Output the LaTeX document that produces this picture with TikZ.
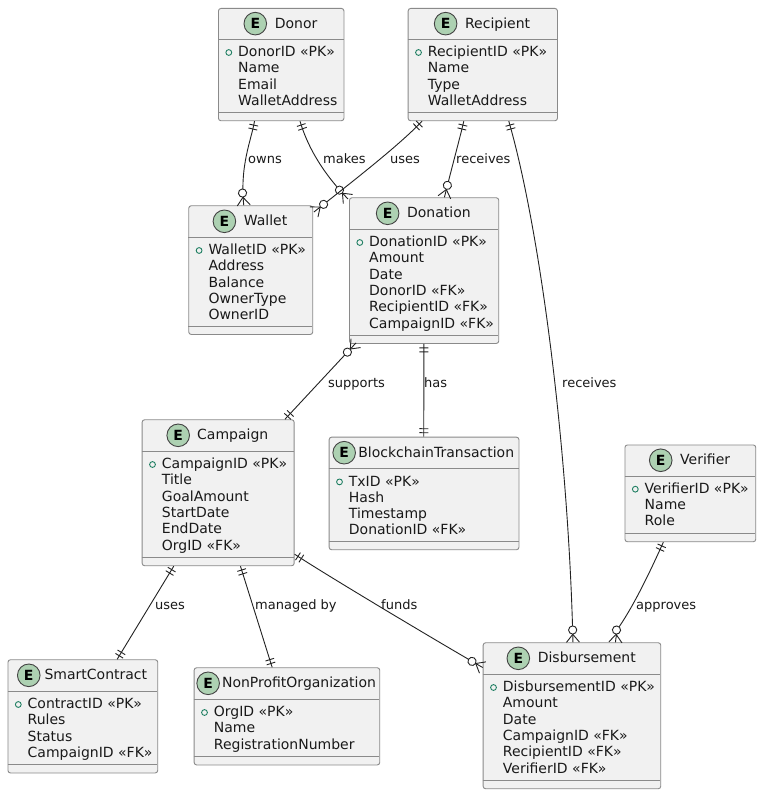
\documentclass[tikz,border=0pt]{standalone}
\usepackage{fontspec}
\setmainfont{DejaVu Sans}
\usetikzlibrary{calc,decorations.markings}
\definecolor{boxfill}{HTML}{F1F1F1}
\definecolor{boxline}{HTML}{8A8A8A}
\definecolor{inkline}{HTML}{222222}
\definecolor{badge}{HTML}{ADD1B2}
\definecolor{pubdot}{HTML}{1F7F62}
\tikzset{
  entbox/.style={draw=boxline,fill=boxfill,line width=0.9pt,rounded corners=2.5pt,inner sep=0pt,anchor=north west},
  sepline/.style={draw=boxline,line width=0.9pt},
  ebadge/.style={circle,draw=inkline!85,fill=badge,line width=0.9pt,minimum size=22.6pt,inner sep=0pt,font=\fontsize{14}{14}\selectfont\bfseries,text=black},
  ttl/.style={anchor=base,inner sep=0pt,font=\fontsize{14}{14}\selectfont,text=black!90},
  rowtxt/.style={anchor=base west,inner sep=0pt,font=\fontsize{14}{14}\selectfont,text=black!90},
  lbl/.style={anchor=base west,inner sep=0pt,font=\fontsize{13}{14}\selectfont,text=black!90},
  rel/.style={draw=inkline,line width=0.9pt},
  onestart/.style={postaction={decorate,decoration={markings,
     mark=at position 4pt with {\draw[inkline,line width=0.9pt] (0,-4.5pt)--(0,4.5pt);},
     mark=at position 8pt with {\draw[inkline,line width=0.9pt] (0,-4.5pt)--(0,4.5pt);}}}},
  oneend/.style={postaction={decorate,decoration={markings,
     mark=at position -8pt with {\draw[inkline,line width=0.9pt] (0,-4.5pt)--(0,4.5pt);},
     mark=at position -4pt with {\draw[inkline,line width=0.9pt] (0,-4.5pt)--(0,4.5pt);}}}},
  crowend/.style={postaction={decorate,decoration={markings,
     mark=at position -0.01pt with {\draw[inkline,line width=0.9pt] (0,-6.5pt)--(-8pt,0)--(0,6.5pt);
        \draw[inkline,line width=0.9pt,fill=white] (-12.3pt,0) circle (4.1pt);}}}},
}
% name, left, top, right, headsep, footsep, bottom, gap, title, rows
\newcommand{\entity}[9]{%
  \node[entbox,minimum width=#4pt-#2pt,minimum height=#7pt-#3pt] (#1) at (#2,#3) {};
  \draw[sepline] (#2,#5) -- (#4,#5);
  \draw[sepline] (#2,#6) -- (#4,#6);
  \pgfmathsetmacro{\txx}{(#2+#4)/2+(22.6+#8)/2}%
  \pgfmathsetmacro{\cyy}{(#3+#5)/2}%
  \pgfmathsetmacro{\tyy}{#3+20.3}%
  \node[ttl] (#1T) at (\txx,\tyy) {#9};
  \coordinate (#1A) at ([xshift={-(#8+11.3)*1pt}]#1T.west);
  \node[ebadge] (#1E) at (#1A |- 0,\cyy) {E};
  \entityrows{#1}{#2}{#5}%
}
\newcommand{\entityrows}[3]{\def\rowname{#1}\def\rowleft{#2}\def\rowtop{#3}\rowsgo}
\newcommand{\rowsgo}[1]{%
  \pgfmathsetmacro{\dotx}{\rowleft+10.8}%
  \pgfmathsetmacro{\rowx}{\rowleft+20}%
  \draw[pubdot,line width=0.9pt] (\dotx,\rowtop+13.2) circle (2.9pt);
  \foreach \rr [count=\ii from 0] in {#1} {
    \node[rowtxt] (\rowname R\ii) at (\rowx,\rowtop+17.3+16.3*\ii) {\rr};
  }
}
\begin{document}
\begin{tikzpicture}[x=1pt,y=-1pt]
\useasboundingbox (0,0) rectangle (761,794);
\fill[white] (0,0) rectangle (761,794);

\entity{donor}{218}{8}{343.5}{39.3}{112}{120.3}{8}{Donor}{DonorID «PK»,Name,Email,WalletAddress}
\entity{recipient}{407.7}{8}{557}{39.3}{112}{120.3}{8}{Recipient}{RecipientID «PK»,Name,Type,WalletAddress}
\entity{wallet}{188.3}{205.3}{312.3}{237.3}{326}{334}{8}{Wallet}{WalletID «PK»,Address,Balance,OwnerType,OwnerID}
\entity{donation}{349}{197.3}{498.3}{229.3}{335}{343}{8}{Donation}{DonationID «PK»,Amount,Date,DonorID «FK»,RecipientID «FK»,CampaignID «FK»}
\entity{campaign}{141.7}{419.3}{293.7}{451.3}{557.3}{565.3}{7.5}{Campaign}{CampaignID «PK»,Title,GoalAmount,StartDate,EndDate,OrgID «FK»}
\entity{chain}{328.7}{436.7}{518.5}{468.7}{541}{549.3}{2.6}{BlockchainTransaction}{TxID «PK»,Hash,Timestamp,DonationID «FK»}
\entity{verifier}{624.5}{444.5}{755.3}{476}{533.3}{541.3}{8}{Verifier}{VerifierID «PK»,Name,Role}
\entity{disb}{482.7}{642.3}{660.3}{674.3}{780.3}{788.3}{8}{Disbursement}{DisbursementID «PK»,Amount,Date,CampaignID «FK»,RecipientID «FK»,VerifierID «FK»}
\entity{smart}{7.5}{659.3}{157.3}{691.3}{764.5}{772.5}{4.3}{SmartContract}{ContractID «PK»,Rules,Status,CampaignID «FK»}
\entity{npo}{193.7}{667.3}{379.3}{699.3}{756.5}{764.5}{2.4}{NonProfitOrganization}{OrgID «PK»,Name,RegistrationNumber}

% connectors
\path[rel,onestart,crowend] ([xshift=-26.7pt]donor.south) .. controls +(-3.5,20) and +(-4,-40) .. ([xshift=-7pt]wallet.north);
\path[rel,onestart,crowend] ([xshift=18.8pt]donor.south) .. controls +(6.7,22.5) and +(-28,-29) .. ([xshift=-1pt,yshift=-1.7pt]donation.north west);
\path[rel,onestart,crowend] ([xshift=-60.7pt]recipient.south) .. controls +(-24,25) and +(38,-30) .. ([xshift=0.7pt,yshift=-6.7pt]wallet.north east);
\path[rel,onestart,crowend] ([xshift=-19pt]recipient.south) .. controls +(-5,21) and +(8,-32) .. ([xshift=20.3pt]donation.north);
\path[rel,onestart,crowend] ([xshift=26pt]recipient.south) .. controls +(31.7,110) and +(-4.5,-192) .. ([xshift=1pt]disb.north);
\path[rel,onestart,crowend] ([xshift=-9.7pt]campaign.north east) -- ([xshift=7pt,yshift=1pt]donation.south west);
\path[rel,onestart,oneend] ([xshift=-0.2pt]donation.south) -- ([xshift=-0.3pt]chain.north);
\path[rel,onestart,oneend] ([xshift=-44.4pt]campaign.south) -- ([xshift=34.3pt]smart.north);
\path[rel,onestart,oneend] ([xshift=22.3pt]campaign.south) -- ([xshift=-14.8pt]npo.north);
\path[rel,onestart,crowend] ([yshift=12pt]campaign.south east) .. controls +(35,23) and +(-35,-20) .. ([yshift=-25.2pt]disb.north west);
\coordinate (approveBend) at (619,627);
\path[rel,onestart,crowend] ([xshift=-27pt]verifier.south) .. controls +(-10.7,23.7) and +(17,-25) .. (approveBend) .. controls +(-2,5) and +(0.5,-6) .. ([xshift=43.5pt]disb.north);

% labels
\node[lbl] (l1) at (248,163.3) {owns};
\node[lbl] (l2) at (323,163.3) {makes};
\node[lbl] (l3) at (390,163.3) {uses};
\node[lbl] (l4) at (456,163.3) {receives};
\node[lbl] (l5) at (328,387) {supports};
\node[lbl] (l6) at (424,387) {has};
\node[lbl] (l7) at (562,387) {receives};
\node[lbl] (l8) at (155,609) {uses};
\node[lbl] (l9) at (255,609) {managed by};
\node[lbl] (l10) at (381,609) {funds};
\node[lbl] (l11) at (636,609) {approves};
\end{tikzpicture}
\end{document}
